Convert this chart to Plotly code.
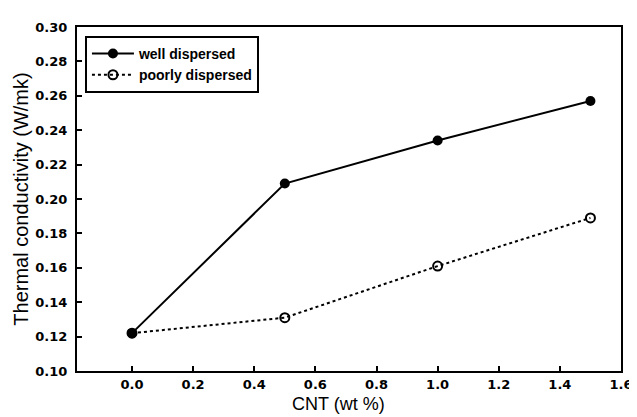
import plotly.graph_objects as go

cnt = [0.0, 0.5, 1.0, 1.5]
well = [0.122, 0.209, 0.234, 0.257]
poor = [0.122, 0.131, 0.161, 0.189]
xticks = [0.0, 0.2, 0.4, 0.6, 0.8, 1.0, 1.2, 1.4, 1.6]
yticks = [0.10, 0.12, 0.14, 0.16, 0.18, 0.20, 0.22, 0.24, 0.26, 0.28, 0.30]

fig = go.Figure()
fig.add_trace(go.Scatter(x=cnt, y=well, mode="lines+markers", name="well dispersed",
                         line=dict(color="black", width=2),
                         marker=dict(symbol="circle", size=10, color="black")))
fig.add_trace(go.Scatter(x=cnt, y=poor, mode="lines+markers", name="poorly dispersed",
                         line=dict(color="black", width=2, dash="dot"),
                         marker=dict(symbol="circle-open", size=9, color="black", line=dict(width=2))))

fig.update_layout(
    width=637, height=417,
    margin=dict(l=69, r=20, t=13, b=54),
    paper_bgcolor="white", plot_bgcolor="white",
    font=dict(family="Liberation Sans, Arial", color="black"),
    legend=dict(x=0.0146, y=0.974, xanchor="left", yanchor="top",
                bordercolor="black", borderwidth=2, bgcolor="white",
                font=dict(size=14, weight="bold"), tracegroupgap=0,
                itemwidth=42),
    showlegend=True,
    annotations=[dict(text="CNT (wt %)", xref="paper", yref="paper", x=0.48, y=0,
                      xanchor="center", yanchor="middle", yshift=-33, showarrow=False,
                      font=dict(size=18))],
)
fig.update_xaxes(range=[-0.18, 1.6], tickvals=xticks, ticktext=[f"{v:.1f}" for v in xticks],
                 showgrid=False, zeroline=False, showline=True, linecolor="black", linewidth=2,
                 mirror=True, ticks="inside", ticklen=5, tickwidth=2, tickcolor="black",
                 ticklabelstandoff=0,
                 tickfont=dict(size=13, weight="bold", family="DejaVu Sans"))
fig.update_yaxes(range=[0.10, 0.30], tickvals=yticks, ticktext=[f"{v:.2f}" for v in yticks],
                 showgrid=False, zeroline=False, showline=True, linecolor="black", linewidth=2,
                 mirror=True, ticks="inside", ticklen=5, tickwidth=2, tickcolor="black",
                 ticklabelstandoff=5,
                 tickfont=dict(size=13, weight="bold", family="DejaVu Sans"),
                 title=dict(text="Thermal conductivity (W/mk)", font=dict(size=20), standoff=1))

fig.write_html("out.html")
